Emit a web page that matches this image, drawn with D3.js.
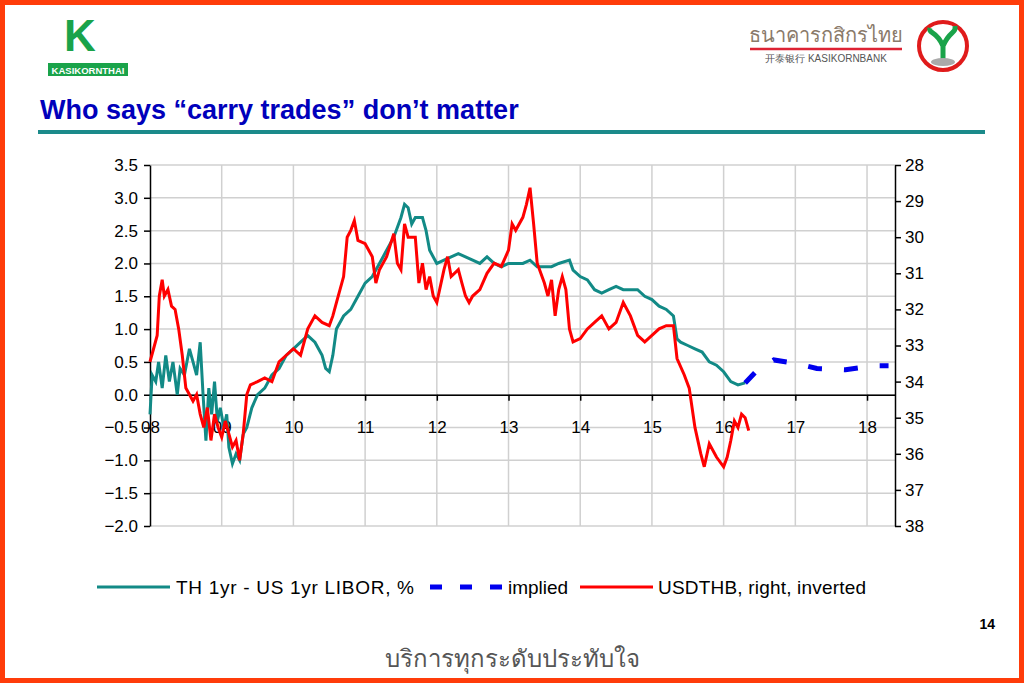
<!DOCTYPE html><html><head><meta charset="utf-8"><script src="https://d3js.org/d3.v7.min.js"></script>
<style>body{margin:0;background:#fff}svg{display:block}text{font-family:"Liberation Sans",Arial,sans-serif}</style></head><body>
<svg id="c" width="1024" height="683"></svg>
<script>
const leftTicks=[-2,-1.5,-1,-0.5,0,0.5,1,1.5,2,2.5,3,3.5];
const rightTicks=[28,29,30,31,32,33,34,35,36,37,38];
const years=[2008,2009,2010,2011,2012,2013,2014,2015,2016,2017,2018];
const yearLabels=["08","09","10","11","12","13","14","15","16","17","18"];
const spread=[[2008.0,-0.3],[2008.03,0.3],[2008.08,0.2],[2008.12,0.5],[2008.17,0.1],[2008.22,0.6],[2008.27,0.2],[2008.32,0.5],[2008.38,0.0],[2008.42,0.4],[2008.48,0.3],[2008.55,0.7],[2008.6,0.5],[2008.65,0.3],[2008.7,0.8],[2008.74,0.0],[2008.78,-0.7],[2008.82,0.1],[2008.86,-0.3],[2008.9,0.2],[2008.94,-0.4],[2008.98,-0.2],[2009.03,-0.5],[2009.07,-0.3],[2009.1,-0.8],[2009.15,-1.05],[2009.2,-0.9],[2009.25,-1.0],[2009.3,-0.6],[2009.35,-0.5],[2009.42,-0.2],[2009.5,0.0],[2009.6,0.1],[2009.7,0.3],[2009.8,0.4],[2009.9,0.6],[2010.0,0.7],[2010.1,0.8],[2010.2,0.9],[2010.3,0.8],[2010.4,0.6],[2010.45,0.4],[2010.5,0.35],[2010.55,0.6],[2010.6,1.0],[2010.7,1.2],[2010.8,1.3],[2010.9,1.5],[2011.0,1.7],[2011.1,1.8],[2011.2,2.0],[2011.3,2.2],[2011.4,2.4],[2011.5,2.7],[2011.55,2.9],[2011.6,2.85],[2011.65,2.6],[2011.7,2.7],[2011.8,2.7],[2011.85,2.5],[2011.9,2.2],[2012.0,2.0],[2012.1,2.05],[2012.2,2.1],[2012.3,2.15],[2012.4,2.1],[2012.5,2.05],[2012.6,2.0],[2012.7,2.1],[2012.8,2.0],[2012.9,1.95],[2013.0,2.0],[2013.1,2.0],[2013.2,2.0],[2013.3,2.05],[2013.4,1.95],[2013.5,1.95],[2013.6,1.95],[2013.7,2.0],[2013.85,2.05],[2013.9,1.9],[2014.0,1.8],[2014.1,1.75],[2014.2,1.6],[2014.3,1.55],[2014.4,1.6],[2014.5,1.65],[2014.6,1.6],[2014.7,1.6],[2014.8,1.6],[2014.9,1.5],[2015.0,1.45],[2015.1,1.35],[2015.2,1.3],[2015.3,1.2],[2015.35,0.85],[2015.4,0.8],[2015.5,0.75],[2015.6,0.7],[2015.7,0.65],[2015.8,0.5],[2015.9,0.45],[2016.0,0.35],[2016.1,0.2],[2016.2,0.15],[2016.3,0.18]];
const implied=[[2016.3,0.18],[2016.45,0.35],[2016.7,0.53],[2017.0,0.48],[2017.3,0.4],[2017.7,0.38],[2018.1,0.44],[2018.3,0.44]];
const usdthb=[[2008.0,33.45],[2008.05,33.09],[2008.1,32.72],[2008.13,31.63],[2008.17,31.18],[2008.2,31.63],[2008.25,31.45],[2008.3,31.91],[2008.35,32.0],[2008.4,32.54],[2008.45,33.27],[2008.5,34.18],[2008.55,34.36],[2008.6,34.54],[2008.65,34.36],[2008.7,34.9],[2008.75,35.27],[2008.8,34.72],[2008.85,35.63],[2008.9,34.9],[2008.95,35.27],[2009.0,35.54],[2009.05,35.09],[2009.1,35.45],[2009.15,35.81],[2009.2,35.63],[2009.25,36.18],[2009.3,35.45],[2009.35,34.36],[2009.4,34.09],[2009.5,34.0],[2009.6,33.9],[2009.7,34.0],[2009.8,33.45],[2009.9,33.27],[2010.0,33.09],[2010.1,33.27],[2010.2,32.54],[2010.3,32.18],[2010.4,32.36],[2010.5,32.45],[2010.55,32.18],[2010.6,31.81],[2010.7,31.09],[2010.75,30.0],[2010.8,29.81],[2010.85,29.54],[2010.9,30.09],[2011.0,30.18],[2011.1,30.54],[2011.15,31.27],[2011.2,30.9],[2011.3,30.54],[2011.4,29.9],[2011.45,30.72],[2011.5,30.9],[2011.55,29.63],[2011.6,30.0],[2011.7,30.0],[2011.75,31.27],[2011.8,30.72],[2011.85,31.45],[2011.9,31.09],[2011.95,31.63],[2012.0,31.81],[2012.1,30.9],[2012.15,30.54],[2012.2,31.09],[2012.3,30.9],[2012.35,31.27],[2012.4,31.63],[2012.45,31.81],[2012.5,31.63],[2012.6,31.45],[2012.7,31.0],[2012.8,30.72],[2012.9,30.81],[2013.0,30.36],[2013.05,29.63],[2013.1,29.81],[2013.2,29.45],[2013.25,29.09],[2013.3,28.63],[2013.35,29.63],[2013.4,30.72],[2013.5,31.27],[2013.55,31.63],[2013.6,31.18],[2013.65,32.18],[2013.7,31.45],[2013.75,31.09],[2013.8,31.45],[2013.85,32.54],[2013.9,32.9],[2014.0,32.81],[2014.1,32.54],[2014.2,32.36],[2014.3,32.18],[2014.4,32.54],[2014.5,32.36],[2014.6,31.81],[2014.7,32.18],[2014.8,32.72],[2014.9,32.9],[2015.0,32.72],[2015.1,32.54],[2015.2,32.45],[2015.3,32.45],[2015.35,33.36],[2015.45,33.81],[2015.52,34.18],[2015.6,35.27],[2015.68,35.99],[2015.73,36.36],[2015.8,35.72],[2015.9,36.09],[2016.0,36.36],[2016.05,36.09],[2016.1,35.63],[2016.15,35.09],[2016.2,35.27],[2016.25,34.9],[2016.3,35.0],[2016.35,35.36]];

const svg=d3.select("#c");
svg.append("rect").attr("x",2.5).attr("y",2.5).attr("width",1019).attr("height",678).attr("fill","none").attr("stroke","#ff3c0a").attr("stroke-width",5);
const lg=svg.append("g");
lg.append("text").attr("x",80).attr("y",51).attr("font-size",44).attr("font-weight","bold").attr("fill","#1aa34a").attr("text-anchor","middle").text("K");
lg.append("rect").attr("x",48).attr("y",63).attr("width",80).attr("height",13).attr("fill","#1aa34a");
lg.append("text").attr("x",88).attr("y",73.5).attr("font-size",9.5).attr("font-weight","bold").attr("fill","#fff").attr("text-anchor","middle").text("KASIKORNTHAI");
lg.append("text").attr("x",826).attr("y",42).attr("font-size",20).attr("fill","#8a7a6a").attr("text-anchor","middle").attr("font-family","Noto Sans").text("ธนาคารกสิกรไทย");
lg.append("line").attr("x1",750).attr("x2",902).attr("y1",49).attr("y2",49).attr("stroke","#d23").attr("stroke-width",2.5);
lg.append("text").attr("x",826).attr("y",62).attr("font-size",10).attr("fill","#555").attr("text-anchor","middle").text("开泰银行 KASIKORNBANK");
lg.append("circle").attr("cx",943).attr("cy",46).attr("r",24).attr("fill","#fff").attr("stroke","#e01b1b").attr("stroke-width",4);
lg.append("path").attr("d","M943,62 L943,42 M943,46 C936,30 928,34 930,28 M943,46 C950,30 956,34 955,26").attr("stroke","#1aa34a").attr("stroke-width",5).attr("fill","none");
lg.append("ellipse").attr("cx",943).attr("cy",62).attr("rx",12).attr("ry",4).attr("fill","#aaa");
svg.append("text").attr("x",40).attr("y",119).attr("font-size",27).attr("font-weight","bold").attr("fill","#0000bb").text("Who says “carry trades” don’t matter");
svg.append("rect").attr("x",38).attr("y",130).attr("width",947).attr("height",4).attr("fill","#1b8a8a");

const L=150,R=895,T=165,B=526;
const x=d3.scaleLinear().domain([2008,2018.39]).range([L,R]);
const y=d3.scaleLinear().domain([-2,3.5]).range([B,T]);
const y2=d3.scaleLinear().domain([38,28]).range([B,T]);
const g=svg.append("g");
g.selectAll(".hg").data(leftTicks).join("line").attr("x1",L).attr("x2",R).attr("y1",d=>y(d)).attr("y2",d=>y(d)).attr("stroke","#d0d0d0").attr("stroke-width",1.5);
g.selectAll(".vg").data(years.slice(1)).join("line").attr("x1",d=>x(d)).attr("x2",d=>x(d)).attr("y1",T).attr("y2",B).attr("stroke","#d0d0d0").attr("stroke-width",1.5);
const ax=d3.axisLeft(y).tickValues(leftTicks).tickFormat(d3.format(".1f")).tickSize(6).tickSizeOuter(0);
const ga=svg.append("g").attr("transform",`translate(${L},0)`).call(ax);
const ar=d3.axisRight(y2).tickValues(rightTicks).tickFormat(d3.format("d")).tickSize(6).tickSizeOuter(0);
const gr=svg.append("g").attr("transform",`translate(${R},0)`).call(ar);
[ga,gr].forEach(a=>{a.select(".domain").attr("stroke","#000").attr("stroke-width",1.5);a.selectAll("line").attr("stroke","#000").attr("stroke-width",1.5);a.selectAll("text").attr("font-size",17).attr("fill","#000").attr("font-family","Liberation Sans, Arial");});
ga.selectAll("text").attr("x",-12);gr.selectAll("text").attr("x",10);
const xa=d3.axisBottom(x).tickValues(years).tickFormat((d,i)=>yearLabels[i]).tickSize(6).tickSizeOuter(0);
const gx=svg.append("g").attr("transform",`translate(0,${y(0)})`).call(xa);
gx.select(".domain").attr("stroke","#000").attr("stroke-width",1.5);
gx.selectAll("line").attr("stroke","#000").attr("stroke-width",1.5);
gx.selectAll("text").attr("font-size",17).attr("fill","#000").attr("y",26).attr("font-family","Liberation Sans, Arial");
const ln=d3.line().x(d=>x(d[0])).y(d=>y(d[1]));
const ln2=d3.line().x(d=>x(d[0])).y(d=>y2(d[1]));
svg.append("path").datum(spread).attr("d",ln).attr("fill","none").attr("stroke","#128a86").attr("stroke-width",3);
svg.append("path").datum(usdthb).attr("d",ln2).attr("fill","none").attr("stroke","#ff0000").attr("stroke-width",3);
svg.append("path").datum(implied).attr("d",ln).attr("fill","none").attr("stroke","#0000ee").attr("stroke-width",5).attr("stroke-dasharray","14,22");
const lgd=svg.append("g").attr("font-size",19);
lgd.append("line").attr("x1",97).attr("x2",170).attr("y1",587).attr("y2",587).attr("stroke","#128a86").attr("stroke-width",3);
lgd.append("text").attr("x",176).attr("y",594).attr("textLength",238).text("TH 1yr  - US 1yr LIBOR, %");
lgd.append("line").attr("x1",430).attr("x2",503).attr("y1",587).attr("y2",587).attr("stroke","#0000ee").attr("stroke-width",5).attr("stroke-dasharray","12,18");
lgd.append("text").attr("x",508).attr("y",594).text("implied");
lgd.append("line").attr("x1",580).attr("x2",653).attr("y1",587).attr("y2",587).attr("stroke","#ff0000").attr("stroke-width",3);
lgd.append("text").attr("x",658).attr("y",594).attr("textLength",208).text("USDTHB, right, inverted");
svg.append("text").attr("x",995).attr("y",629).attr("font-size",14).attr("font-weight","bold").attr("text-anchor","end").text("14");
svg.append("text").attr("x",512).attr("y",667).attr("font-size",24).attr("text-anchor","middle").attr("fill","#555").attr("font-family","Noto Sans").text("บริการทุกระดับประทับใจ");
</script></body></html>
